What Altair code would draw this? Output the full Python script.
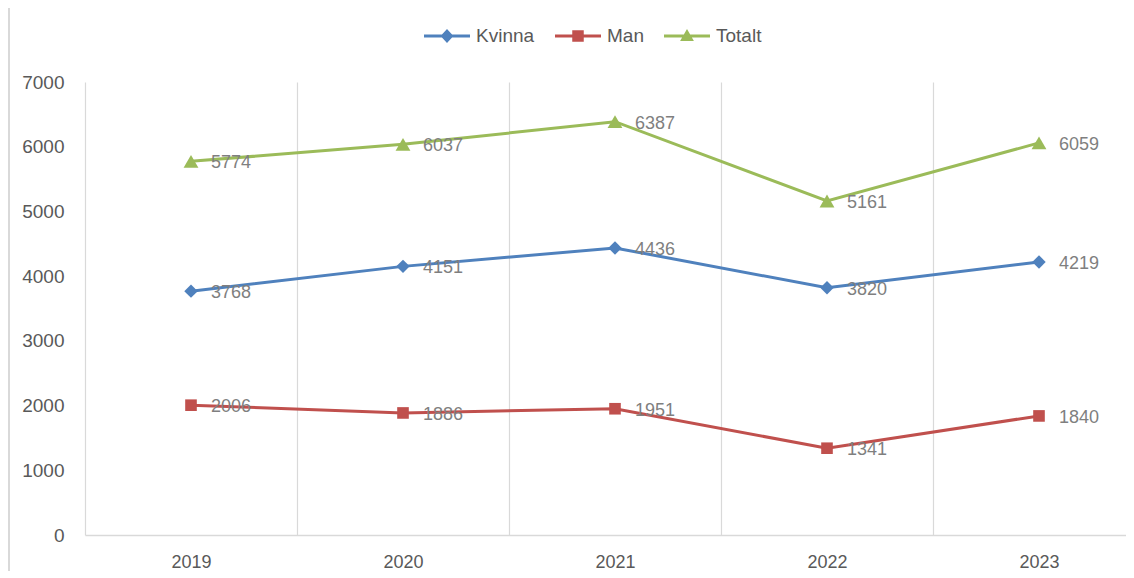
import altair as alt
import pandas as pd

# ---- data ----
years = [2019, 2020, 2021, 2022, 2023]
series_names = ["Kvinna", "Man", "Totalt"]
kvinna = [3768, 4151, 4436, 3820, 4219]
man = [2006, 1886, 1951, 1341, 1840]
totalt = [5774, 6037, 6387, 5161, 6059]
y_ticks = [0, 1000, 2000, 3000, 4000, 5000, 6000, 7000]

# ---- styles ----
colors = ["#4F81BD", "#C0504D", "#9BBB59"]
markers = [("diamond", 180), ("square", 135), ("triangle-up", 220)]
FONT = "Liberation Sans"
AXIS_TXT = "#595959"
LABEL_TXT = "#7F7F7F"
GRID = "#D9D9D9"
PLOT_W, PLOT_H = 1041, 453
CAT_W = 212  # pixels per category; the plot area runs past the picture's right edge

# legend symbols: a line segment with the series' marker
seg = "M-1,-0.065L1,-0.065L1,0.065L-1,0.065Z "
legend_paths = [
    seg + "M0,-0.3L0.28,0L0,0.3L-0.28,0Z",
    seg + "M-0.25,-0.25L0.25,-0.25L0.25,0.25L-0.25,0.25Z",
    seg + "M0,-0.3L0.3,0.22L-0.3,0.22Z",
]

rows = []
for name, vals in zip(series_names, [kvinna, man, totalt]):
    for yr, v in zip(years, vals):
        rows.append({"year": yr, "series": name, "value": v})
df = pd.DataFrame(rows)

# category boundaries (grid lines) sit half a category left of each year
boundaries = [y - 0.5 for y in years]
x_domain = [years[0] - 0.5, years[0] - 0.5 + PLOT_W / CAT_W]

x_enc = alt.X(
    "year:Q",
    scale=alt.Scale(domain=x_domain, nice=False, zero=False),
    axis=alt.Axis(
        title=None, values=boundaries, labelExpr="format(datum.value + 0.5, 'd')",
        labelOffset=CAT_W / 2, labelAngle=0, grid=True, gridColor=GRID, gridWidth=1.2,
        domainColor=GRID, domainWidth=1.5, ticks=False, tickSize=0, labelPadding=18,
        labelFontSize=18, labelColor=AXIS_TXT, labelFont=FONT, labelFlush=False,
        labelOverlap=False,
    ),
)
y_enc = alt.Y(
    "value:Q",
    scale=alt.Scale(domain=[0, 7000], nice=False),
    axis=alt.Axis(
        title=None, values=y_ticks, format="d", grid=False, domain=False, ticks=False,
        tickSize=0, labelPadding=21, labelFontSize=19, labelColor=AXIS_TXT, labelFont=FONT,
    ),
)
color_scale = alt.Scale(domain=series_names, range=colors)

base = alt.Chart(df)

LEG = alt.Legend(
    title=None, orient="none", legendX=339, legendY=-69, direction="horizontal", columns=3,
    symbolSize=2116, symbolStrokeWidth=0, symbolOpacity=1, labelFontSize=19,
    labelColor=AXIS_TXT, labelFont=FONT, labelOffset=6, columnPadding=20, padding=0,
)
# empty layer whose only job is to carry the legend (line + marker symbols)
legend_layer = base.transform_filter("datum.value < 0").mark_point(filled=True, opacity=1).encode(
    x=x_enc,
    y=y_enc,
    color=alt.Color("series:N", scale=color_scale, legend=LEG),
    shape=alt.Shape("series:N", scale=alt.Scale(domain=series_names, range=legend_paths), legend=LEG),
)

# chart-area frame (left edge), as in the reference
frame = alt.Chart(df).mark_rule(color="#D9D9D9", strokeWidth=1.5).encode(
    x=alt.value(-76), y=alt.value(-80), y2=alt.value(500)
)

layers = [legend_layer, frame]
for name, col, (shp, sz) in zip(series_names, colors, markers):
    sub = base.transform_filter(alt.datum.series == name)
    layers.append(sub.mark_line(strokeWidth=3, color=col).encode(x=x_enc, y=y_enc))
for name, col, (shp, sz) in zip(series_names, colors, markers):
    sub = base.transform_filter(alt.datum.series == name)
    layers.append(
        sub.mark_point(shape=shp, filled=True, size=sz, opacity=1, color=col).encode(x=x_enc, y=y_enc)
    )

labels = base.mark_text(
    align="left", baseline="middle", dx=20, dy=2, fontSize=18, font=FONT, color=LABEL_TXT
).encode(x=x_enc, y=y_enc, text=alt.Text("value:Q", format="d"))
layers.append(labels)

chart = (
    alt.layer(*layers)
    .properties(
        width=PLOT_W,
        height=PLOT_H,
        padding={"left": 77, "top": 74, "right": 0, "bottom": 36},
        autosize=alt.AutoSizeParams(type="none"),
        background="white",
    )
    .configure_view(stroke=None)
)

chart.save("out.html", embed_options={"renderer": "svg", "actions": False})
